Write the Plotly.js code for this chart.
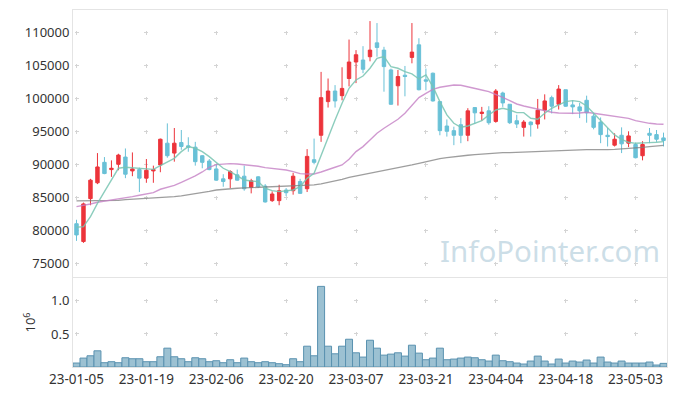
<!DOCTYPE html>
<html><head><meta charset="utf-8">
<script src="https://cdn.plot.ly/plotly-3.0.1.min.js"></script>
<style>html,body{margin:0;padding:0;background:#fff}#chart{width:677px;height:396px}</style>
</head><body><div id="chart"></div>
<script>
const dates = ["23-01-05","23-01-06","23-01-09","23-01-10","23-01-11","23-01-12","23-01-13","23-01-16","23-01-17","23-01-18",
"23-01-19","23-01-20","23-01-25","23-01-26","23-01-27","23-01-30","23-01-31","23-02-01","23-02-02","23-02-03",
"23-02-06","23-02-07","23-02-08","23-02-09","23-02-10","23-02-13","23-02-14","23-02-15","23-02-16","23-02-17",
"23-02-20","23-02-21","23-02-22","23-02-23","23-02-24","23-02-27","23-02-28","23-03-02","23-03-03","23-03-06",
"23-03-07","23-03-08","23-03-09","23-03-10","23-03-13","23-03-14","23-03-15","23-03-16","23-03-17","23-03-20",
"23-03-21","23-03-22","23-03-23","23-03-24","23-03-27","23-03-28","23-03-29","23-03-30","23-03-31","23-04-03",
"23-04-04","23-04-05","23-04-06","23-04-07","23-04-10","23-04-11","23-04-12","23-04-13","23-04-14","23-04-17",
"23-04-18","23-04-19","23-04-20","23-04-21","23-04-24","23-04-25","23-04-26","23-04-27","23-04-28","23-05-02",
"23-05-03","23-05-04","23-05-08","23-05-09","23-05-10"];

const open = [81000,78300,84800,87200,90300,89200,90000,91100,89000,89200,
87900,89000,89900,93200,91700,93300,92800,92600,91300,90500,
89300,87800,87800,88400,88200,86500,88100,86700,84500,84500,
86100,86000,87400,86300,90700,94400,99500,101100,100400,103000,
105500,105800,106300,108400,107300,104300,101900,103500,106200,108100,
102800,103800,99500,95800,95100,96000,94400,98600,97700,98100,
96500,100800,99100,96600,95600,96400,96100,98200,100100,99100,
101300,99000,98700,99700,97300,96400,94400,92900,94400,93200,
93000,91300,94700,94500,94000];

const high = [81600,84200,87800,91700,91100,90600,91600,92400,91800,89500,
90800,89800,93900,96200,95500,95200,94100,93400,91400,90800,
90000,88500,89100,89200,89800,87800,88200,87000,85900,86900,
86400,88700,87800,92300,93900,104000,103000,102000,104700,108900,
107300,107900,111700,111400,107800,104500,104300,104900,111400,109100,
104500,103900,99500,96800,95700,97000,98500,98600,98700,98800,
101400,101000,99100,97500,96700,96500,99900,100600,100400,102000,
101300,99700,99300,100400,97700,97100,95500,94700,95600,95000,
93300,93500,95500,95200,94800];

const low = [78400,78100,83800,87000,88500,88100,89100,87900,88200,85800,
87200,87200,88800,91000,90400,92200,91900,89800,89400,89100,
87500,86600,86400,87500,86000,85600,86400,84200,84300,83800,
85200,85400,85500,85800,90000,93400,98600,98600,99700,101800,
102300,103800,105600,106300,101000,99000,98900,100300,105300,101200,
101200,99500,94400,94200,92900,93200,93500,96100,96600,96000,
96300,98700,96100,95500,94200,94200,95400,96800,97700,98300,
98700,97600,97000,96300,95300,93200,92700,92700,91700,92600,
90900,90600,93200,93400,92700];

const close = [79300,84000,87600,89600,88600,89400,91400,88500,89300,87900,
89100,89200,93800,91300,93200,92700,92600,90400,90300,89200,
87600,87400,88900,87600,86300,87500,86600,84300,85500,86000,
85700,88200,85600,91200,90300,100100,101100,99600,101500,105500,
106600,104400,107300,107700,104800,99100,103300,103300,107000,101300,
102600,99600,95100,95000,94400,94400,98100,97800,97900,96300,
101100,99300,96300,96100,96400,96000,98200,99600,98800,101400,
98800,98700,98100,97800,95600,94500,94200,93800,93100,94300,
91000,93000,94400,93800,93600];

const volume = [60000,135000,170000,245000,65000,80000,65000,140000,125000,125000,
80000,80000,155000,285000,155000,125000,80000,140000,125000,80000,
95000,65000,110000,65000,135000,80000,65000,80000,65000,50000,
35000,125000,80000,315000,170000,1220000,315000,200000,315000,420000,
215000,150000,405000,285000,180000,195000,215000,165000,330000,210000,
110000,135000,285000,110000,120000,135000,150000,140000,110000,90000,
180000,95000,80000,60000,45000,90000,165000,90000,45000,120000,
60000,90000,75000,105000,60000,150000,75000,60000,90000,60000,
60000,60000,75000,30000,55000];

const ma5 = [80460,80560,82070,84090,85860,87630,89400,89550,89500,89400,
89350,89240,89800,90310,90910,91920,92680,92430,91920,91160,
90310,89400,88890,88230,87630,87480,87380,86370,86010,85860,
86010,86110,86620,87880,88640,91420,94190,96720,99240,101520,
102780,103380,104550,106060,106310,104800,104550,104040,103690,102930,
103540,101770,99500,97480,96210,95610,95810,96210,96620,97480,
98230,98490,98230,97830,97830,96970,96820,97730,98490,98990,
99500,99650,99500,98840,97730,96620,95460,94450,93790,93340,
93180,93180,93290,93340,93440];

const ma20 = [83590,83740,83990,84250,84400,84550,84700,84850,85100,85310,
85510,85710,86220,86470,86820,87280,87730,88240,88840,89550,
89950,90050,90100,90050,89950,89850,89700,89500,89400,89240,
89140,88890,88590,88540,88540,88840,89140,89550,89900,90760,
91920,92680,93690,94700,95460,96110,96820,97730,98990,100100,
100760,101360,101670,101870,102020,101970,101770,101520,101260,101010,
100610,100150,99650,99140,98840,98590,98340,98030,97880,97780,
97730,97730,97780,97880,97730,97580,97480,97380,97220,96970,
96620,96370,96210,96110,96060];

const ma60 = [84450,84450,84450,84450,84450,84500,84550,84650,84700,84750,
84800,84850,84900,85000,85100,85210,85360,85510,85710,85910,
86110,86220,86320,86370,86420,86470,86520,86520,86570,86570,
86620,86670,86720,86770,86870,87020,87230,87430,87730,88030,
88230,88440,88640,88840,89040,89240,89500,89700,89900,90150,
90410,90660,90860,91010,91160,91270,91370,91470,91570,91670,
91720,91770,91770,91820,91870,91920,91970,92020,92070,92120,
92170,92220,92220,92220,92220,92170,92220,92270,92330,92380,
92430,92580,92680,92780,92880];

const tickDates = dates.filter((d, i) => i % 10 === 0);
const priceTicks = [75000, 80000, 85000, 90000, 95000, 100000, 105000, 110000];
const volTicks = [500000, 1000000];
const volTickText = ["0.5", "1.0"];

const RED = '#ec343b', TEAL = '#69c1d7';

const traces = [
  {
    type: 'candlestick', x: dates, open: open, high: high, low: low, close: close,
    xaxis: 'x', yaxis: 'y',
    increasing: {line: {color: RED, width: 1}, fillcolor: RED},
    decreasing: {line: {color: TEAL, width: 1}, fillcolor: TEAL},
    whiskerwidth: 0, hoverinfo: 'skip'
  },
  {type: 'scatter', mode: 'lines', x: dates, y: ma60, xaxis: 'x', yaxis: 'y',
   line: {color: 'rgba(125,125,125,0.75)', width: 1.3}, hoverinfo: 'skip'},
  {type: 'scatter', mode: 'lines', x: dates, y: ma20, xaxis: 'x', yaxis: 'y',
   line: {color: 'rgba(196,128,196,0.8)', width: 1.4}, hoverinfo: 'skip'},
  {type: 'scatter', mode: 'lines', x: dates, y: ma5, xaxis: 'x', yaxis: 'y',
   line: {color: 'rgba(120,196,178,0.85)', width: 1.4}, hoverinfo: 'skip'},
  {type: 'bar', x: dates, y: volume, xaxis: 'x', yaxis: 'y2',
   marker: {color: '#9cc1d2', line: {color: '#5a92b0', width: 1}}, hoverinfo: 'skip'}
];

const GRIDC = '#d4d4d4', LINEC = '#e4e4e4';
const layout = {
  width: 677, height: 396,
  margin: {l: 73, r: 10, t: 10, b: 29, pad: 0},
  paper_bgcolor: '#ffffff', plot_bgcolor: '#ffffff',
  showlegend: false, bargap: 0,
  font: {family: 'Noto Sans, Open Sans, sans-serif', size: 13, color: '#444'},
  xaxis: {
    type: 'category', anchor: 'y2', range: [-0.5, dates.length - 0.5],
    tickmode: 'array', tickvals: tickDates, ticktext: tickDates,
    ticks: '', showline: true, linecolor: LINEC, linewidth: 1, mirror: 'all',
    showgrid: true, gridcolor: GRIDC, gridwidth: 1, griddash: '0px,20.6px,4px,8.4px',
    rangeslider: {visible: false}, zeroline: false,
    tickfont: {size: 13.5, color: '#333'}, fixedrange: true
  },
  yaxis: {
    domain: [0.2521, 1], range: [72928, 113378],
    tickmode: 'array', tickvals: priceTicks, tickformat: 'd',
    ticks: '', showline: true, linecolor: LINEC, linewidth: 1, mirror: 'all',
    showgrid: true, gridcolor: GRIDC, gridwidth: 1, griddash: '0px,1.5px,4px,64.38px',
    zeroline: false, tickfont: {size: 13, color: '#333'}
  },
  yaxis2: {
    domain: [0, 0.2493], range: [0, 1347000],
    tickmode: 'array', tickvals: volTicks, ticktext: volTickText,
    ticks: '', showline: true, linecolor: LINEC, linewidth: 1, mirror: 'all',
    showgrid: true, gridcolor: GRIDC, gridwidth: 1, griddash: '0px,1.5px,4px,64.38px',
    zeroline: false, tickfont: {size: 13, color: '#333'},
    title: {text: '10<sup>6</sup>', font: {size: 13, color: '#333'}, standoff: 12}
  },
  annotations: [{
    text: 'InfoPointer.com', xref: 'paper', yref: 'paper', x: 0.991, y: 0.262,
    xanchor: 'right', yanchor: 'bottom', showarrow: false,
    font: {family: 'Noto Sans, Open Sans, sans-serif', size: 29.5, color: 'rgba(170,200,216,0.6)'}
  }]
};

Plotly.newPlot('chart', traces, layout, {displayModeBar: false, staticPlot: true});
</script>
</body></html>
